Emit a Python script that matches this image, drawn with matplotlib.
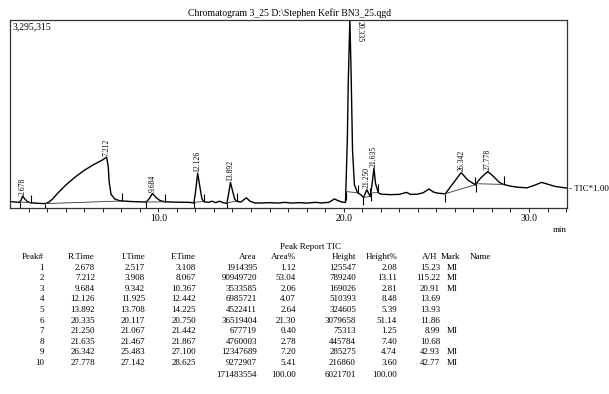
import numpy as np
import matplotlib
matplotlib.use("Agg")
import matplotlib.pyplot as plt

plt.rcParams['font.family'] = ['Liberation Serif', 'DejaVu Serif']

# chromatogram trace (time in min, intensity in counts)
trace_t = [2.00, 2.30, 2.50, 2.60, 2.678, 2.80, 2.95, 3.10, 3.40, 3.70,
           3.91, 4.10, 4.30, 4.60, 5.00, 5.50, 6.00, 6.50, 7.00, 7.212,
           7.30, 7.35, 7.45, 7.65, 7.90, 8.07, 8.50, 9.00, 9.34, 9.50,
           9.684, 9.90, 10.10, 10.37, 10.80, 11.30, 11.70, 11.92, 12.00, 12.126,
           12.25, 12.35, 12.44, 12.70, 12.90, 13.10, 13.30, 13.50, 13.70, 13.80,
           13.892, 14.00, 14.12, 14.22, 14.45, 14.75, 14.95, 15.20, 15.50, 16.00,
           16.50, 16.80, 17.20, 17.60, 18.00, 18.50, 18.80, 19.20, 19.50, 19.70,
           19.90, 20.10, 20.20, 20.25, 20.335, 20.40, 20.48, 20.58, 20.75, 20.90,
           21.07, 21.25, 21.44, 21.55, 21.635, 21.72, 21.87, 22.00, 22.50, 23.00,
           23.40, 23.60, 24.00, 24.30, 24.60, 24.85, 25.10, 25.48, 25.90, 26.342,
           26.70, 27.10, 27.40, 27.778, 28.10, 28.40, 28.62, 29.00, 29.40, 29.90,
           30.30, 30.67, 31.00, 31.40, 32.05]
trace_v = [105e3, 95e3, 90e3, 130e3, 200e3, 150e3, 100e3, 85e3, 75e3, 70e3,
           68e3, 95e3, 150e3, 260e3, 390e3, 530e3, 650e3, 750e3, 835e3, 885e3,
           720e3, 450e3, 230e3, 150e3, 120e3, 115e3, 105e3, 100e3, 95e3, 150e3,
           245e3, 170e3, 120e3, 100e3, 95e3, 92e3, 90e3, 80e3, 250e3, 600e3,
           350e3, 160e3, 105e3, 90e3, 110e3, 85e3, 110e3, 85e3, 70e3, 250e3,
           440e3, 300e3, 150e3, 110e3, 95e3, 170e3, 110e3, 80e3, 78e3, 85e3,
           78e3, 90e3, 78e3, 85e3, 78e3, 90e3, 80e3, 90e3, 150e3, 120e3,
           95e3, 90e3, 1.2e6, 2.2e6, 3295315, 2.4e6, 1.0e6, 400e3, 260e3, 230e3,
           175e3, 310e3, 190e3, 450e3, 690e3, 420e3, 260e3, 235e3, 225e3, 230e3,
           265e3, 230e3, 235e3, 260e3, 325e3, 270e3, 250e3, 240e3, 420e3, 612e3,
           480e3, 400e3, 520e3, 630e3, 540e3, 440e3, 405e3, 375e3, 355e3, 345e3,
           390e3, 440e3, 410e3, 370e3, 340e3]

# peak report
peak_no = [1, 2, 3, 4, 5, 6, 7, 8, 9, 10]
r_time = [2.678, 7.212, 9.684, 12.126, 13.892, 20.335, 21.250, 21.635, 26.342, 27.778]
i_time = [2.517, 3.908, 9.342, 11.925, 13.708, 20.117, 21.067, 21.467, 25.483, 27.142]
f_time = [3.108, 8.067, 10.367, 12.442, 14.225, 20.750, 21.442, 21.867, 27.100, 28.625]
area = [1914395, 90949720, 3533585, 6985721, 4522411, 36519404, 677719, 4760003, 12347689, 9272907]
area_pct = [1.12, 53.04, 2.06, 4.07, 2.64, 21.30, 0.40, 2.78, 7.20, 5.41]
height = [125547, 789240, 169026, 510393, 324605, 3079658, 75313, 445784, 285275, 216860]
height_pct = [2.08, 13.11, 2.81, 8.48, 5.39, 51.14, 1.25, 7.40, 4.74, 3.60]
a_over_h = [15.23, 115.22, 20.91, 13.69, 13.93, 11.86, 8.99, 10.68, 42.93, 42.77]
mark = ['MI', 'MI', 'MI', '', '', '', 'MI', '', 'MI', 'MI']
total_area = 171483554
total_height = 6021701
y_max = 3295315

W, H = 609, 394
fig = plt.figure(figsize=(W / 100, H / 100), dpi=100)
ax = fig.add_axes([10 / W, (H - 207.5) / H, 557 / W, 188 / H])

ax.plot(trace_t, trace_v, color='black', lw=1.0)

# integration baselines and start/end tick marks
for s, e in zip(i_time, f_time):
    vs = np.interp(s, trace_t, trace_v)
    ve = np.interp(e, trace_t, trace_v)
    ax.plot([s, e], [vs, ve], color='#333333', lw=0.6)
    ax.plot(s, vs, marker=3, color='black', ms=6, mew=0.8)
    ax.plot(e, ve, marker=2, color='black', ms=6, mew=0.8)

# peak labels
for rt in r_time:
    apex = np.interp(rt, trace_t, trace_v)
    if apex >= y_max * 0.98:
        ax.annotate(f"{rt:.3f}", (rt, y_max), xytext=(4, -1), textcoords='offset points',
                    rotation=270, ha='left', va='top', fontsize=5.5)
    else:
        ax.annotate(f"{rt:.3f}", (rt, apex), xytext=(0, 1), textcoords='offset points',
                    rotation=90, ha='center', va='bottom', fontsize=5.5)

ax.set_xlim(2.0, 32.05)
ax.set_ylim(0, y_max)
ax.set_xticks([10, 20, 30])
ax.set_xticklabels(['10.0', '20.0', '30.0'], fontsize=7)
ax.set_xticks(np.arange(3, 33, 1), minor=True)
ax.tick_params(axis='x', which='both', direction='out', length=3, width=0.6, pad=2)
ax.set_yticks([])
for sp in ax.spines.values():
    sp.set_linewidth(0.9)
    sp.set_color('#333333')

ax.text(0.004, 0.985, f"{y_max:,}", transform=ax.transAxes, ha='left', va='top', fontsize=7)

fig.text(289 / W, 1 - 13 / H, r"Chromatogram 3_25 D:\Stephen Kefir BN3_25.qgd",
         ha='center', va='center', fontsize=7)
fig.text(569 / W, 1 - 189 / H, "- TIC*1.00", ha='left', va='center', fontsize=6.5)
fig.text(560 / W, 1 - 230 / H, "min", ha='center', va='center', fontsize=6.5)

# peak report table
fig.text(310 / W, 1 - 247 / H, "Peak Report TIC", ha='center', va='center', fontsize=6.5)
hdr_y = 257
row_dy = 10.6
headers = [("Peak#", 44, 'right'), ("R.Time", 95, 'right'), ("I.Time", 145, 'right'),
           ("F.Time", 196, 'right'), ("Area", 257, 'right'), ("Area%", 296, 'right'),
           ("Height", 356, 'right'), ("Height%", 397, 'right'), ("A/H", 437, 'right'),
           ("Mark", 441, 'left'), ("Name", 470, 'left')]
for txt, x, ha in headers:
    fig.text(x / W, 1 - hdr_y / H, txt, ha=ha, va='center', fontsize=6.5)

for i in range(len(peak_no)):
    y = 1 - (hdr_y + row_dy * (i + 1)) / H
    cells = [(str(peak_no[i]), 44), (f"{r_time[i]:.3f}", 95), (f"{i_time[i]:.3f}", 145),
             (f"{f_time[i]:.3f}", 196), (str(area[i]), 257), (f"{area_pct[i]:.2f}", 296),
             (str(height[i]), 356), (f"{height_pct[i]:.2f}", 397), (f"{a_over_h[i]:.2f}", 440)]
    for txt, x in cells:
        fig.text(x / W, y, txt, ha='right', va='center', fontsize=6.5)
    fig.text(447 / W, y, mark[i], ha='left', va='center', fontsize=6.5)

y_tot = 1 - (hdr_y + row_dy * 11 + 1) / H
fig.text(257 / W, y_tot, str(total_area), ha='right', va='center', fontsize=6.5)
fig.text(296 / W, y_tot, "100.00", ha='right', va='center', fontsize=6.5)
fig.text(356 / W, y_tot, str(total_height), ha='right', va='center', fontsize=6.5)
fig.text(397 / W, y_tot, "100.00", ha='right', va='center', fontsize=6.5)

fig.savefig("out.png", dpi=100)
